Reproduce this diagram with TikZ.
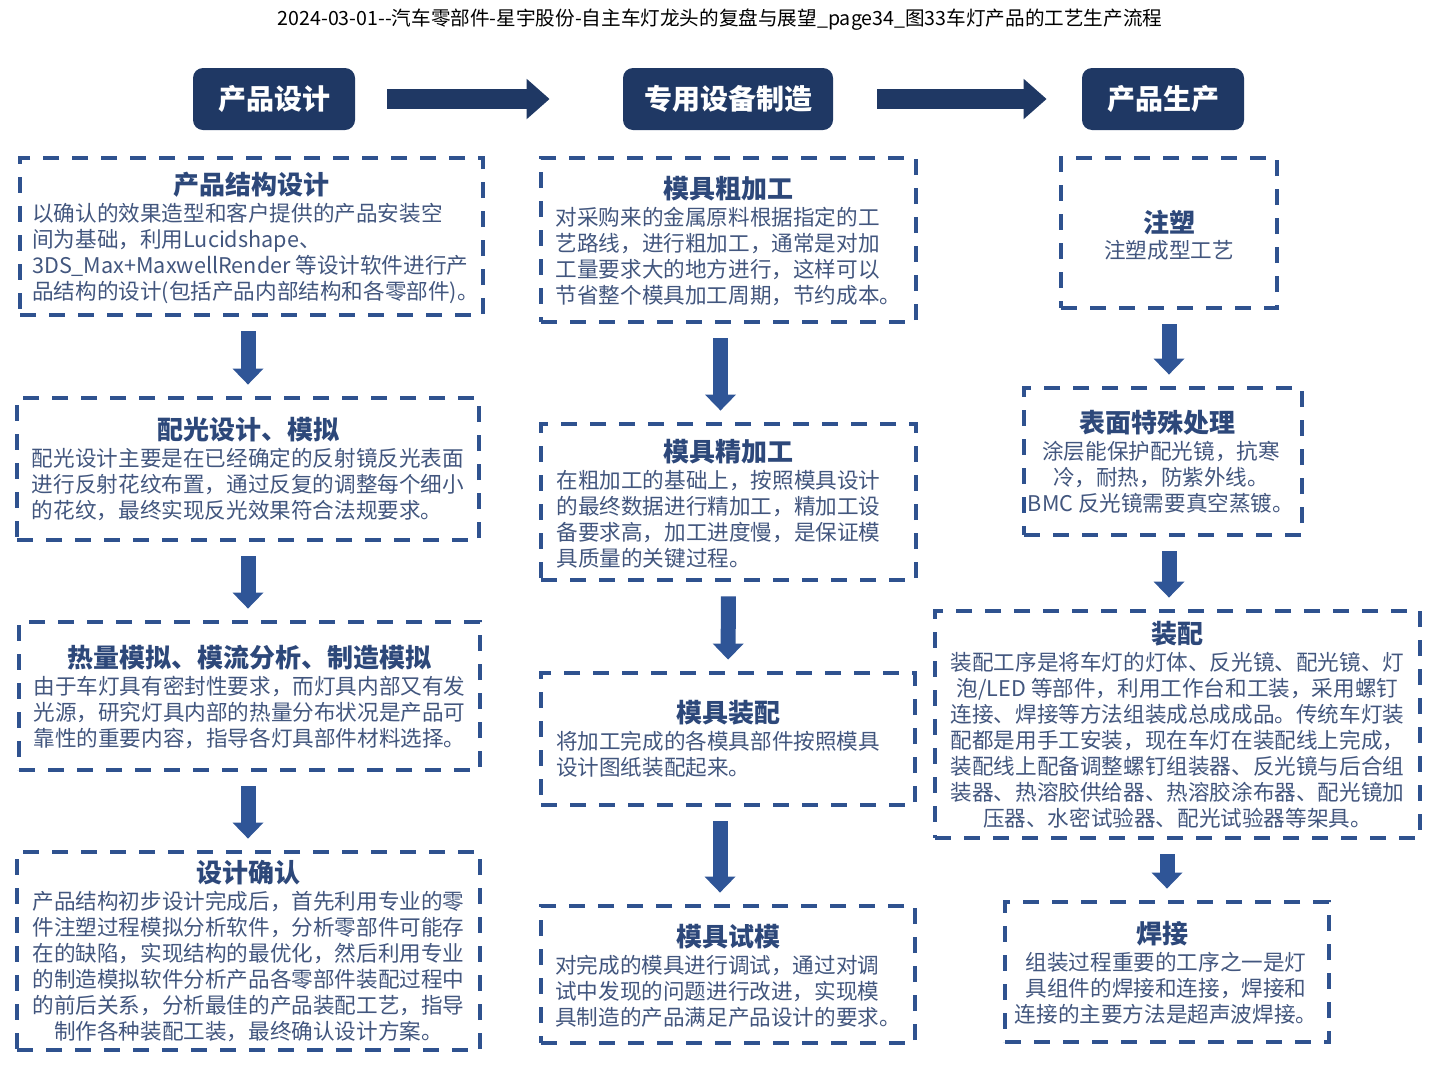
\documentclass[tikz,border=0pt]{standalone}
\usepackage{fontspec}
\setmainfont{Noto Sans CJK SC}
\usepackage{tikz}
\usetikzlibrary{positioning, arrows.meta}
\definecolor{Navy}{RGB}{31,56,100}
\definecolor{DashBlue}{RGB}{47,82,143}
\definecolor{ArrowBlue}{RGB}{47,85,151}
\definecolor{TitleBlue}{RGB}{45,72,122}
\definecolor{BodyText}{RGB}{66,86,126}

\begin{document}
\begin{tikzpicture}[x=0.5pt, y=-0.5pt,
    head/.style={
        rectangle, rounded corners=5pt, fill=Navy,
        minimum height=31pt, text=white,
        font=\fontsize{14}{16}\selectfont\bfseries},
    dbox/.style={
        rectangle, draw=DashBlue, line width=2.4pt,
        dash pattern=on 8pt off 6.5pt},
    ttl/.style={font=\fontsize{13}{15}\selectfont\bfseries, text=TitleBlue, inner sep=0pt},
    body/.style={font=\fontsize{10.8}{13}\selectfont, text=BodyText, inner sep=0pt, align=left},
    darr/.style={-{Triangle[width=15pt, length=8pt]}, line width=7.5pt, draw=ArrowBlue,
        shorten <=7pt, shorten >=5.5pt},
    harr/.style={-{Triangle[width=19.5pt, length=11.5pt]}, line width=10pt, draw=Navy}]
  \useasboundingbox (0,0) rectangle (1443,1072);
  % 标题
  \node[font=\fontsize{9.8}{11}\selectfont] (cap) at (720,20)
    {2024-03-01-{}-汽车零部件-星宇股份-自主车灯龙头的复盘与展望\_page34\_图33车灯产品的工艺生产流程};
  % 阶段
  \node[head, minimum width=81pt]  (p) at (274,99)  {产品设计};
  \node[head, minimum width=105pt] (m) at (728,99)  {专用设备制造};
  \node[head, minimum width=81pt]  (r) at (1163,99) {产品生产};
  \draw[harr, shorten <=16pt, shorten >=36.5pt] (p) -- (m);
  \draw[harr, shorten <=22pt, shorten >=17.5pt] (m) -- (r);
  % 产品设计
  \node[dbox, minimum width=231.5pt, minimum height=78.5pt] (l1) at (251.5,236.5) {};
  \node[ttl] (l1t) at (251.5,185) {产品结构设计};
  \node[body, below=2.5pt of l1t, xshift=2pt] (l1b)
    {以确认的效果造型和客户提供的产品安装空\\间为基础，利用Lucidshape、\\3DS\_Max+MaxwellRender 等设计软件进行产\\品结构的设计(包括产品内部结构和各零部件)。};
  \node[dbox, minimum width=231pt, minimum height=71pt] (l2) at (248,469) {};
  \node[ttl] (l2t) at (248,430) {配光设计、模拟};
  \node[body, below=2.5pt of l2t] (l2b)
    {配光设计主要是在已经确定的反射镜反光表面\\进行反射花纹布置，通过反复的调整每个细小\\的花纹，最终实现反光效果符合法规要求。};
  \node[dbox, minimum width=230.5pt, minimum height=74pt] (l3) at (249.5,696) {};
  \node[ttl] (l3t) at (249.5,658) {热量模拟、模流分析、制造模拟};
  \node[body, below=2.5pt of l3t] (l3b)
    {由于车灯具有密封性要求，而灯具内部又有发\\光源，研究灯具内部的热量分布状况是产品可\\靠性的重要内容，指导各灯具部件材料选择。};
  \node[dbox, minimum width=231.5pt, minimum height=99pt] (l4) at (248.5,951) {};
  \node[ttl] (l4t) at (248.5,873) {设计确认};
  \node[body, align=center, below=2.5pt of l4t] (l4b)
    {产品结构初步设计完成后，首先利用专业的零\\件注塑过程模拟分析软件，分析零部件可能存\\在的缺陷，实现结构的最优化，然后利用专业\\的制造模拟软件分析产品各零部件装配过程中\\的前后关系，分析最佳的产品装配工艺，指导\\制作各种装配工装，最终确认设计方案。};
  \draw[darr] (l1.south -| l2.north) -- (l2.north);
  \draw[darr] (l2.south -| l2.north) -- (l2.south |- l3.north);
  \draw[darr] (l3.south -| l2.north) -- (l2.south |- l4.north);
  % 专用设备制造
  \node[dbox, minimum width=187.5pt, minimum height=82pt] (m1) at (728.5,240) {};
  \node[ttl] (m1t) at (728.5,189) {模具粗加工};
  \node[body, below=2.5pt of m1t] (m1b)
    {对采购来的金属原料根据指定的工\\艺路线，进行粗加工，通常是对加\\工量要求大的地方进行，这样可以\\节省整个模具加工周期，节约成本。};
  \node[dbox, minimum width=187.5pt, minimum height=78pt] (m2) at (728.5,502) {};
  \node[ttl] (m2t) at (728.5,452) {模具精加工};
  \node[body, below=2.5pt of m2t, xshift=-5pt] (m2b)
    {在粗加工的基础上，按照模具设计\\的最终数据进行精加工，精加工设\\备要求高，加工进度慢，是保证模\\具质量的关键过程。};
  \node[dbox, minimum width=187pt, minimum height=66pt] (m3) at (728,739) {};
  \node[ttl] (m3t) at (728,713) {模具装配};
  \node[body, below=2.5pt of m3t, xshift=-5pt] (m3b)
    {将加工完成的各模具部件按照模具\\设计图纸装配起来。};
  \node[dbox, minimum width=187pt, minimum height=68.5pt] (m4) at (728,974.5) {};
  \node[ttl] (m4t) at (728,937) {模具试模};
  \node[body, below=2.5pt of m4t] (m4b)
    {对完成的模具进行调试，通过对调\\试中发现的问题进行改进，实现模\\具制造的产品满足产品设计的要求。};
  \draw[darr] ([xshift=-4pt]m1.south) -- ([xshift=-4pt]m2.north);
  \draw[darr] (m2.south) -- (m3.north);
  \draw[darr] ([xshift=-4pt]m3.south) -- ([xshift=-4pt]m4.north);
  % 产品生产
  \node[dbox, minimum width=108pt, minimum height=75pt] (r1) at (1169,233) {};
  \node[ttl] (r1t) at (1169,222) {注塑};
  \node[body, below=2.5pt of r1t] (r1b) {注塑成型工艺};
  \node[dbox, minimum width=139pt, minimum height=73.5pt] (r2) at (1163,461.5) {};
  \node[ttl] (r2t) at (1157,423) {表面特殊处理};
  \node[body, align=center, below=2.5pt of r2t, xshift=2pt] (r2b)
    {涂层能保护配光镜，抗寒\\冷，耐热，防紫外线。\\BMC 反光镜需要真空蒸镀。};
  \node[dbox, minimum width=242.5pt, minimum height=113.5pt] (r3) at (1177.5,724.5) {};
  \node[ttl] (r3t) at (1177.5,634) {装配};
  \node[body, align=center, below=2.5pt of r3t] (r3b)
    {装配工序是将车灯的灯体、反光镜、配光镜、灯\\泡/LED 等部件，利用工作台和工装，采用螺钉\\连接、焊接等方法组装成总成成品。传统车灯装\\配都是用手工安装，现在车灯在装配线上完成，\\装配线上配备调整螺钉组装器、反光镜与后合组\\装器、热溶胶供给器、热溶胶涂布器、配光镜加\\压器、水密试验器、配光试验器等架具。};
  \node[dbox, minimum width=162pt, minimum height=70pt] (r4) at (1167,972) {};
  \node[ttl] (r4t) at (1162,934) {焊接};
  \node[body, align=center, below=2.5pt of r4t, xshift=2pt] (r4b)
    {组装过程重要的工序之一是灯\\具组件的焊接和连接，焊接和\\连接的主要方法是超声波焊接。};
  \draw[darr] (r1.south) -- (r1.south |- r2.north);
  \draw[darr] (r2.south -| r1.south) -- (r1.south |- r3.north);
  \draw[darr] (r3.south -| r4.north) -- (r4.north);
\end{tikzpicture}
\end{document}
